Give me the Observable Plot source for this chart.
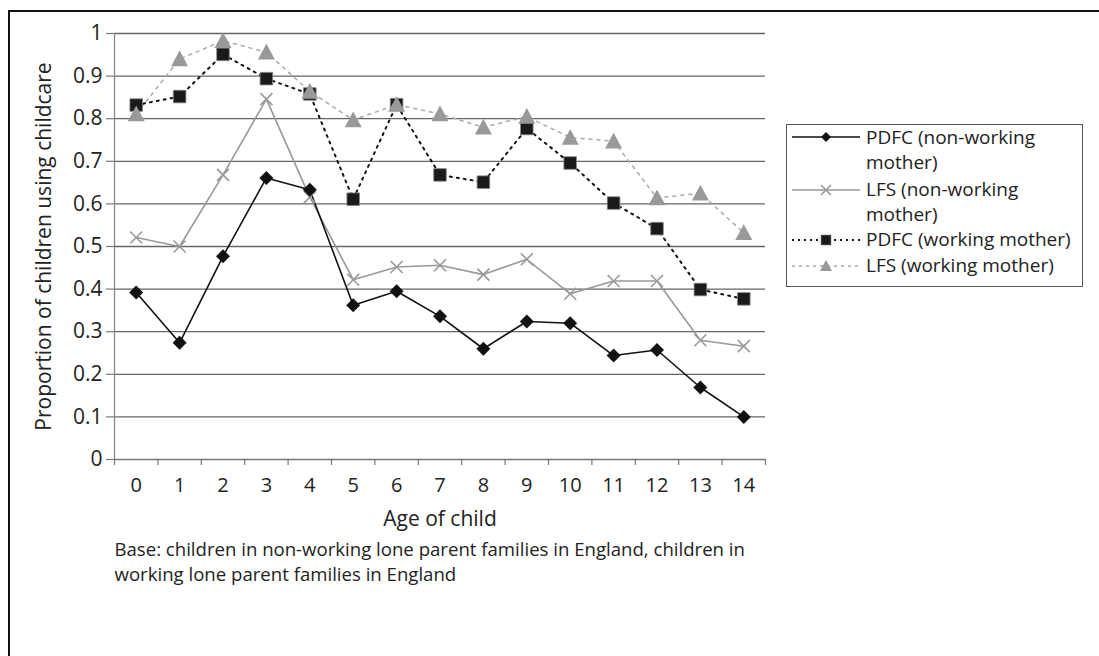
<!DOCTYPE html>
<html>
<head>
<meta charset="utf-8">
<script src="https://cdn.jsdelivr.net/npm/d3@7"></script>
<script src="https://cdn.jsdelivr.net/npm/@observablehq/plot@0.6"></script>
<style>
  html, body { margin: 0; padding: 0; background: #fff; }
  #wrap { position: relative; width: 1099px; height: 656px; overflow: hidden; font-family: "Open Sans", sans-serif; color: #222; }
  #border { position: absolute; left: 8px; top: 10px; width: 1200px; height: 800px; border-top: 2.5px solid #111; border-left: 2.5px solid #111; box-sizing: border-box; }
  #legend { position: absolute; left: 786px; top: 124px; width: 297px; height: 163px; border: 1px solid #555; box-sizing: border-box; background: #fff; }
  .lt { position: absolute; left: 79px; font-size: 19px; line-height: 25px; white-space: nowrap; }
  #legend svg { position: absolute; left: 0; top: 0; }
</style>
</head>
<body>
<div id="wrap">
  <div id="border"></div>
  <div id="chart"></div>
  <div id="legend"></div>
</div>
<script>
const ages = [0, 1, 2, 3, 4, 5, 6, 7, 8, 9, 10, 11, 12, 13, 14];
const pdfcNonWorking = [0.392, 0.274, 0.477, 0.661, 0.633, 0.362, 0.395, 0.336, 0.26, 0.324, 0.32, 0.244, 0.257, 0.169, 0.1];
const lfsNonWorking  = [0.521, 0.5, 0.668, 0.846, 0.616, 0.422, 0.452, 0.456, 0.434, 0.47, 0.389, 0.419, 0.419, 0.28, 0.266];
const pdfcWorking    = [0.832, 0.852, 0.951, 0.894, 0.858, 0.611, 0.833, 0.668, 0.651, 0.777, 0.696, 0.602, 0.542, 0.399, 0.377];
const lfsWorking     = [0.811, 0.94, 0.983, 0.956, 0.864, 0.797, 0.833, 0.811, 0.78, 0.805, 0.756, 0.747, 0.614, 0.625, 0.532];
const seriesNames = ["PDFC (non-working mother)", "LFS (non-working mother)", "PDFC (working mother)", "LFS (working mother)"];
const yTicks = [0, 0.1, 0.2, 0.3, 0.4, 0.5, 0.6, 0.7, 0.8, 0.9, 1];
const yTitle = "Proportion of children using childcare";
const xTitle = "Age of child";
const captionLines = ["Base: children in non-working lone parent families in England, children in", "working lone parent families in England"];

// custom symbols
const diamondSym = { draw(ctx, size) { const h = Math.sqrt(size / Math.PI); ctx.moveTo(0, -h); ctx.lineTo(h, 0); ctx.lineTo(0, h); ctx.lineTo(-h, 0); ctx.closePath(); } };
const squareSym = { draw(ctx, size) { const h = Math.sqrt(size / Math.PI); ctx.rect(-h, -h, 2 * h, 2 * h); } };
const triSym = { draw(ctx, size) { const h = Math.sqrt(size / Math.PI); ctx.moveTo(0, -h); ctx.lineTo(h, h * 0.85); ctx.lineTo(-h, h * 0.85); ctx.closePath(); } };
const timesSym = { draw(ctx, size) { const h = Math.sqrt(size / Math.PI); ctx.moveTo(-h, -h); ctx.lineTo(h, h); ctx.moveTo(-h, h); ctx.lineTo(h, -h); } };

const mk = (vals) => ages.map((a, i) => ({ age: a, v: vals[i] }));
const dPN = mk(pdfcNonWorking), dLN = mk(lfsNonWorking), dPW = mk(pdfcWorking), dLW = mk(lfsWorking);

const fmt = d => String(+d.toFixed(1));
const boundaries = d3.range(-0.5, 15, 1);

const chart = Plot.plot({
  width: 1099,
  height: 656,
  marginLeft: 114,
  marginRight: 334,
  marginTop: 33,
  marginBottom: 197,
  style: { fontFamily: "'Open Sans', sans-serif", fontSize: "19px", color: "#222", background: "transparent", overflow: "visible" },
  x: { domain: [-0.5, 14.5] },
  y: { domain: [0, 1] },
  marks: [
    Plot.ruleY(yTicks.slice(1), { stroke: "#666", strokeWidth: 1.3 }),
    Plot.ruleY([0], { stroke: "#777", strokeWidth: 1.3 }),
    Plot.ruleX([-0.5], { stroke: "#888", strokeWidth: 1.3 }),
    Plot.axisX({ ticks: boundaries, tickSize: 6, tickFormat: () => "", stroke: "#777", strokeWidth: 1.2, label: null }),
    Plot.axisX({ ticks: ages, tickSize: 0, tickPadding: 18, tickFormat: d => String(d), label: null, fontSize: 20, fill: "#222" }),
    Plot.axisY({ ticks: yTicks, tickSize: 8, tickPadding: 4, stroke: "#777", strokeWidth: 1.2, tickFormat: fmt, label: null, fontSize: 21, fill: "#222" }),
    Plot.text([yTitle], { frameAnchor: "left", textAnchor: "middle", lineAnchor: "middle", dx: -70, rotate: -90, fontSize: 21, fill: "#222" }),
    Plot.text([xTitle], { frameAnchor: "bottom", textAnchor: "middle", lineAnchor: "middle", dy: 60, fontSize: 21, fill: "#222" }),
    Plot.text([captionLines[0]], { frameAnchor: "bottom-left", textAnchor: "start", lineAnchor: "middle", dy: 91, fontSize: 18.6, fill: "#222" }),
    Plot.text([captionLines[1]], { frameAnchor: "bottom-left", textAnchor: "start", lineAnchor: "middle", dy: 116, fontSize: 18.6, fill: "#222" }),
    // LFS working
    Plot.line(dLW, { x: "age", y: "v", stroke: "#aaa", strokeWidth: 1.5, strokeDasharray: "3,5" }),
    // PDFC working
    Plot.line(dPW, { x: "age", y: "v", stroke: "#111", strokeWidth: 2, strokeDasharray: "2,5" }),
    // LFS non-working
    Plot.line(dLN, { x: "age", y: "v", stroke: "#999", strokeWidth: 1.6 }),
    // PDFC non-working
    Plot.line(dPN, { x: "age", y: "v", stroke: "#111", strokeWidth: 1.6 }),
    Plot.dot(dLN, { x: "age", y: "v", symbol: timesSym, r: 6, stroke: "#999", strokeWidth: 1.6, fill: "none" }),
    Plot.dot(dPN, { x: "age", y: "v", symbol: diamondSym, r: 7, fill: "#111", stroke: "none" }),
    Plot.dot(dPW, { x: "age", y: "v", symbol: squareSym, r: 6.3, fill: "#1a1a1a", stroke: "#888", strokeWidth: 0.8 }),
    Plot.dot(dLW, { x: "age", y: "v", symbol: triSym, r: 8.5, fill: "#999", stroke: "none" })
  ]
});
document.getElementById("chart").appendChild(chart);

// legend
const legend = document.getElementById("legend");
const ns = "http://www.w3.org/2000/svg";
const svg = document.createElementNS(ns, "svg");
svg.setAttribute("width", 297); svg.setAttribute("height", 163);
legend.appendChild(svg);
function el(tag, attrs) { const e = document.createElementNS(ns, tag); for (const k in attrs) e.setAttribute(k, attrs[k]); svg.appendChild(e); return e; }
const entries = [
  { lines: [seriesNames[0].replace(" mother)", ""), "mother)"], top: 0, sy: 12, stroke: "#111", sw: 1.6, dash: null, marker: "diamond" },
  { lines: [seriesNames[1].replace(" mother)", ""), "mother)"], top: 52, sy: 65, stroke: "#999", sw: 1.6, dash: null, marker: "times" },
  { lines: [seriesNames[2]], top: 102, sy: 115, stroke: "#111", sw: 2, dash: "2,4", marker: "square" },
  { lines: [seriesNames[3]], top: 128, sy: 141, stroke: "#aaa", sw: 1.5, dash: "3,4", marker: "tri" }
];
entries.forEach((e, i) => {
  const div = document.createElement("div");
  div.className = "lt";
  div.style.top = e.top + "px";
  div.innerHTML = e.lines.join("<br>");
  legend.appendChild(div);
  const attrs = { x1: 5, x2: 73, y1: e.sy, y2: e.sy, stroke: e.stroke, "stroke-width": e.sw };
  if (e.dash) attrs["stroke-dasharray"] = e.dash;
  el("line", attrs);
  const cx = 39, cy = e.sy;
  if (e.marker === "diamond") el("path", { d: `M${cx},${cy-5}L${cx+5},${cy}L${cx},${cy+5}L${cx-5},${cy}Z`, fill: "#111" });
  if (e.marker === "times") el("path", { d: `M${cx-5},${cy-5}L${cx+5},${cy+5}M${cx-5},${cy+5}L${cx+5},${cy-5}`, stroke: "#999", "stroke-width": 1.6, fill: "none" });
  if (e.marker === "square") el("rect", { x: cx-5, y: cy-5, width: 10, height: 10, fill: "#1a1a1a", stroke: "#888", "stroke-width": 0.6 });
  if (e.marker === "tri") el("path", { d: `M${cx},${cy-6}L${cx+6},${cy+5}L${cx-6},${cy+5}Z`, fill: "#999" });
});
</script>
</body>
</html>
